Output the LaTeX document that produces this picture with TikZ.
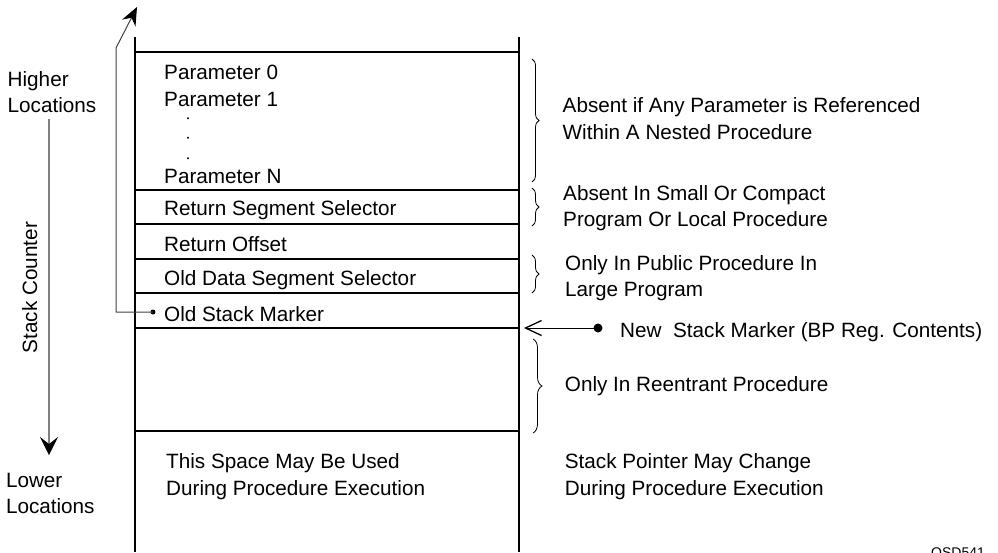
\documentclass[tikz,border=0pt]{standalone}
\usepackage{fontspec}
\setmainfont{Liberation Sans}
\usetikzlibrary{arrows.meta,decorations.pathreplacing}
\begin{document}
\begin{tikzpicture}[x=1pt,y=-1pt,
  txt/.style={anchor=base west,inner sep=0pt,font=\fontsize{20.7}{24}\selectfont},
  boxline/.style={line width=1.8pt,black},
  br/.style={decorate,decoration={brace,amplitude=#1},line width=0.8pt},
  br/.default=7pt,
  dotnode/.style={circle,fill=black,inner sep=0pt,minimum size=#1},
  conn/.style={line width=1pt,draw=black!75},
]
\useasboundingbox (0,0) rectangle (998,552);

% ---- stack box ----
\coordinate (boxTL) at (135,37);
\coordinate (boxTR) at (519,37);
\coordinate (boxBL) at (135,552);
\coordinate (boxBR) at (519,552);
\draw[boxline] (boxTL) -- (boxBL);
\draw[boxline] (boxTR) -- (boxBR);
\foreach \yy/\nm in {52/r0,190/r1,224/r2,259/r3,293/r4,328/r5,431/r6}
  \draw[boxline] (135,\yy) coordinate (\nm L) -- (519,\yy) coordinate (\nm R);

% ---- cell texts ----
\node[txt] (p0) at (164,79) {Parameter 0};
\node[txt] (p1) at (164,106) {Parameter 1};
\node[dotnode=2.2pt] (d1) at (188,118.3) {};
\node[dotnode=2.2pt] (d2) at (188,137.8) {};
\node[dotnode=2.2pt] (d3) at (188,158.2) {};
\node[txt] (pn) at (164,183) {Parameter N};
\node[txt] (rss) at (164,215) {Return Segment Selector};
\node[txt] (ro) at (164,251) {Return Offset};
\node[txt] (ods) at (164,285) {Old Data Segment Selector};
\node[txt] (osm) at (164,321) {Old Stack Marker};
\node[txt] (ts1) at (166,468) {This Space May Be Used};
\node[txt] (ts2) at (166,495) {During Procedure Execution};

% ---- left labels ----
\node[txt] (hi1) at (7.5,86) {Higher};
\node[txt] (hi2) at (7.5,112.5) {Locations};
\node[txt] (lo1) at (5.8,487) {Lower};
\node[txt] (lo2) at (5.8,513) {Locations};
\node[anchor=base,inner sep=0pt,rotate=90,font=\fontsize{20.7}{24}\selectfont]
  (sc) at (37,287.5) {Stack Counter};

% stack counter arrow
\coordinate (scTop) at (49,119);
\coordinate (scBot) at (49,455);
\draw[line width=1.7pt,draw=black!50,-{Stealth[length=18pt,width=18pt,inset=7pt,black]}] (scTop) -- (scBot);

% old stack marker connector
\node[dotnode=5pt] (osmdot) at (153,312) {};
\coordinate (bendA) at (116,312);
\coordinate (bendB) at (116,48);
\coordinate (topTip) at (137,7);
\draw[conn,-{Stealth[length=18pt,width=15pt,inset=6pt,black]}]
  (osmdot.center) -- (bendA) -- (bendB) -- (topTip);

% ---- right side ----
\draw[br] (532,59) -- (532,182);
\node[txt] (t1a) at (562.5,112.7) {Absent if Any Parameter is Referenced};
\node[txt] (t1b) at (562.5,139.3) {Within A Nested Procedure};

\draw[br] (532,188) -- (532,226);
\node[txt] (t2a) at (563,200) {Absent In Small Or Compact};
\node[txt] (t2b) at (563,226.5) {Program Or Local Procedure};

\draw[br] (532,255) -- (532,293);
\node[txt] (t3a) at (565,270) {Only In Public Procedure In};
\node[txt] (t3b) at (565,296.7) {Large Program};

\node[dotnode=9pt] (nsmdot) at (598,328) {};
\coordinate (nsmTip) at (524,328);
\draw[line width=1pt,-{Straight Barb[length=16pt,width=15pt,line width=1.3pt]}] (nsmdot.center) -- (nsmTip);
\node[txt] (nsm) at (620,337.5) {New\ \ Stack Marker (BP Reg. Contents)};

\draw[br=9pt] (533,339) -- (533,433);
\node[txt] (t4) at (564.7,391.7) {Only In Reentrant Procedure};

\node[txt] (sp1) at (564.7,468.3) {Stack Pointer May Change};
\node[txt] (sp2) at (564.7,495) {During Procedure Execution};

\begin{scope}
\clip (0,0) rectangle (998,552);
\node[anchor=base west,inner sep=0pt,font=\fontsize{14}{16}\selectfont] (osd) at (931,557.5) {OSD541};
\end{scope}
\end{tikzpicture}
\end{document}
